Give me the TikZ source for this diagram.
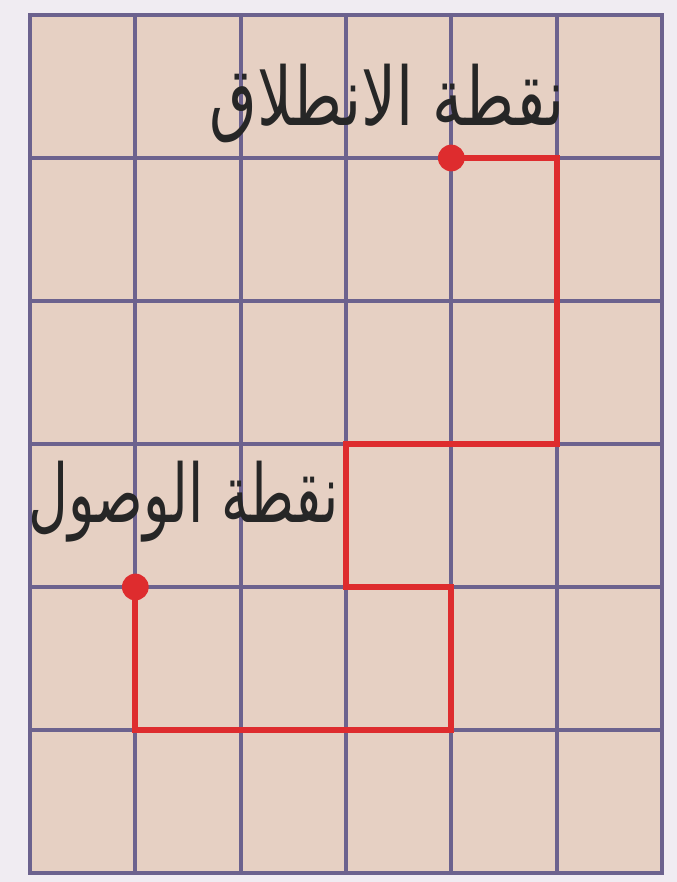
\documentclass[tikz,border=0pt]{standalone}
\usepackage{fontspec}
\usepackage{graphicx}
\usetikzlibrary{positioning}
\TeXXeTstate=1
\newfontfamily\arabicfont[Script=Arabic]{DejaVu Sans}
\definecolor{PaperPink}{RGB}{230,208,195}
\definecolor{PageWhite}{RGB}{240,236,242}
\definecolor{GridBlue}{RGB}{108,98,142}
\definecolor{RouteRed}{RGB}{222,44,46}
\newcommand{\arabiclabel}[2][0.76]{\scalebox{#1}[1]{\beginR #2\endR}}
\tikzset{
  paper/.style={fill=PaperPink,draw=GridBlue,line width=1.2pt},
  gridline/.style={draw=GridBlue,line width=1.1pt},
  route/.style={draw=RouteRed,line width=1.8pt,line join=miter},
  dot/.style={circle,fill=RouteRed,inner sep=0pt,minimum size=7.6pt},
  place/.style={font=\arabicfont\fontsize{23}{27}\selectfont,text=black!85,
    inner sep=0pt,anchor=base east}
}

\begin{document}
\begin{tikzpicture}[x=1.0533cm,y=-1.43cm]

\useasboundingbox[fill=PageWhite] (-0.2848,-0.1049) rectangle (6.1426,6.0629);

% squared paper
\draw[paper] (0,0) rectangle (6,6);
\foreach \i in {1,...,5} {
  \draw[gridline] (\i,0) -- (\i,6);
  \draw[gridline] (0,\i) -- (6,\i);
}

\node[dot] (start) at (4,1) {};
\node[dot] (finish) at (1,4) {};

\draw[route] (start.center) -| (5,3) -| (3,4) -| (4,5) -| (finish.center);

\node[place] (startlabel) at (5.08,0.77) {\arabiclabel{نقطة الانطلاق}};
\node[place] (finishlabel) at (2.94,3.55) {\arabiclabel[0.68]{نقطة الوصول}};

\end{tikzpicture}
\end{document}
